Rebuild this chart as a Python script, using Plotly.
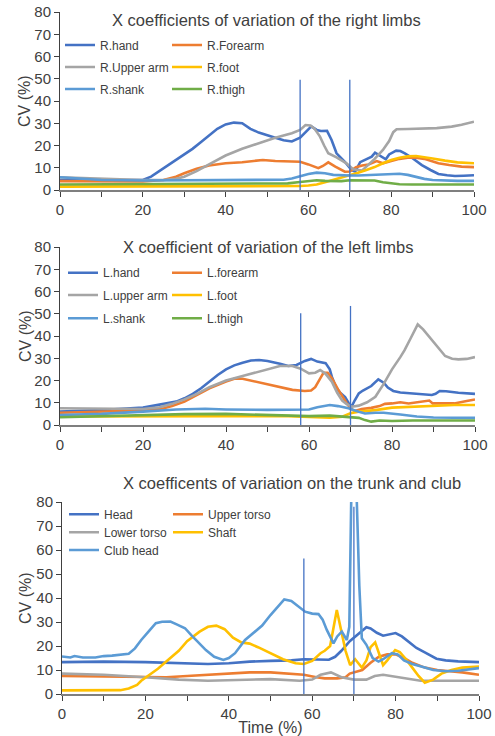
import plotly.graph_objects as go

FONT = "Liberation Sans, Arial, sans-serif"
TXT = "#404040"
W, H = 495, 736

# ---------------- data: panel 1 (right limbs) ----------------
r_hand_x = [0, 5, 10, 15, 20, 22, 24, 26, 28, 30, 32, 34, 36, 38, 40, 42, 44, 46, 48, 50, 52, 54, 56, 58, 59, 60.7, 62, 63, 64.5, 65.6, 66.8, 67.8, 68.8, 70.4, 71.3, 72.5, 74.1, 75.3, 76.1, 77.3, 78.7, 79.5, 81.2, 82.2, 83.3, 85, 87.4, 89.5, 91.4, 93.5, 95.4, 97.5, 100]
r_hand_y = [4.5, 4.5, 4.3, 4.3, 4.5, 6, 8.5, 11, 13.5, 16, 18.5, 21.5, 24.5, 27.5, 29.5, 30.3, 30, 27.5, 25.8, 24.8, 23.5, 22.4, 21.8, 23.5, 25.5, 28.6, 27, 26.5, 26.6, 22.5, 16.5, 14.5, 12.7, 9, 8.3, 12.5, 13.8, 15, 16.8, 15.3, 13.8, 16, 17.7, 17.5, 16.5, 14.5, 11.2, 9, 7.2, 6.6, 6.3, 6.4, 6.6]

r_forearm_x = [0, 10, 20, 25, 28, 30, 33, 36, 40, 44, 47, 49, 52, 55, 58, 60, 62.4, 63.5, 64.8, 66.5, 68.8, 70, 71.5, 73, 74.5, 76.5, 78, 80, 82, 84, 86, 88, 91.4, 94, 97, 100]
r_forearm_y = [4, 3.8, 3.8, 4.5, 6, 7.5, 9.5, 11, 12, 12.5, 13.2, 13.5, 13, 12.7, 12.7, 11.5, 9.8, 10.8, 12.4, 10.5, 8.2, 8.3, 10.2, 11, 11.5, 13, 12, 13, 14, 14.5, 14.5, 14, 12, 11.2, 10.5, 10.3]

r_upper_x = [0, 10, 20, 25, 28, 30, 33, 36, 40, 44, 48, 52, 56, 58, 59.3, 60.5, 61.5, 62.8, 63.8, 64.8, 66.8, 68, 69.2, 70.8, 72.9, 74, 76, 78, 79.5, 80.5, 81.3, 84, 87.4, 91, 94.6, 97, 100]
r_upper_y = [5.7, 5, 4.5, 4.5, 5, 6, 8.5, 11.5, 15.5, 18.5, 21, 23.5, 25.5, 27, 29.2, 29, 27.5, 24, 20, 16.5, 14.7, 13.5, 12, 9.3, 8.7, 10.5, 14, 18, 22, 26, 27.3, 27.4, 27.6, 27.8, 28.5, 29.3, 30.7]

r_foot_x = [0, 20, 40, 50, 55, 58, 60, 62, 64, 66, 68, 70, 72, 74, 76, 78, 80, 82, 84, 86, 88, 90, 93, 96, 100]
r_foot_y = [1.5, 1.5, 1.5, 1.5, 1.6, 1.8, 2, 2.5, 3.5, 4.5, 5.5, 6.7, 7.8, 9, 10.3, 12, 13.5, 14.5, 15.1, 15.3, 14.9, 14.2, 13.2, 12.4, 12]

r_shank_x = [0, 5, 10, 20, 30, 40, 50, 54, 56, 58, 60, 62, 64, 66, 68, 70, 72, 74, 76, 78, 80, 82, 84, 86, 88, 90, 93, 96, 100]
r_shank_y = [5.7, 5, 4.5, 4.3, 4.3, 4.3, 4.3, 4.6, 5.2, 6.2, 7.2, 7.8, 7.5, 6.8, 6.5, 6.5, 6.5, 6.7, 6.8, 7.1, 7.4, 7.3, 6.8, 5.9, 5, 4.5, 4.2, 4.1, 4.1]

r_thigh_x = [0, 20, 40, 50, 55, 58, 60, 62, 64, 66, 68, 70, 74, 76, 78, 80, 82, 85, 90, 100]
r_thigh_y = [2.5, 2.6, 2.6, 2.7, 3, 3.6, 4.1, 4.4, 4.1, 3.9, 4.0, 4.4, 4.5, 4.3, 3.5, 3, 2.6, 2.5, 2.6, 2.5]

# ---------------- data: panel 2 (left limbs) ----------------
l_hand_x = [0, 10, 20, 24, 28, 30, 32, 34, 36, 38, 40, 42, 44, 46, 48, 50, 53, 55, 57, 59, 60.5, 62, 64, 65, 65.5, 66.5, 67.5, 68.7, 69.5, 70.2, 71, 72, 73, 75, 76.7, 78, 79, 80.3, 82, 85, 88, 89.6, 90.5, 91.5, 93, 96, 100]
l_hand_y = [6, 6.7, 7.8, 9, 10.5, 12, 14, 16.5, 19.5, 22.5, 25, 26.8, 28, 29, 29.2, 28.8, 27.5, 26.5, 27, 28.8, 29.7, 28.5, 27.8, 25, 21.7, 17, 14.5, 12.5, 10, 8, 11, 14.2, 15.5, 17.5, 20.5, 19, 16.8, 15.3, 14.6, 14.2, 13.8, 13.5, 14, 15.3, 15.2, 14.5, 14]

l_forearm_x = [0, 10, 20, 25, 27, 30, 33, 36, 40, 42, 44, 47, 50, 53, 56, 59, 60.5, 61.5, 62.5, 63.5, 64.5, 65.5, 67, 68, 69, 70, 71, 72.7, 75, 77, 78.3, 80, 82, 84, 86, 88, 89, 89.8, 92, 95, 98, 100]
l_forearm_y = [5.5, 6, 6.5, 7.5, 8.5, 10.5, 13.5, 16.5, 19.5, 20.8, 20.8, 19.5, 18.5, 17, 15.8, 15.3, 15.5, 17, 20.5, 23.5, 23.5, 21, 16, 12.7, 10, 7.5, 6.3, 7.2, 7.7, 8.5, 9.5, 9.7, 10.2, 9.7, 10.3, 10.8, 11, 9.7, 9.8, 9.7, 10.8, 11.5]

l_upper_x = [0, 10, 20, 24, 27, 30, 33, 36, 40, 44, 47, 50, 53, 56, 58, 60, 61.5, 62.7, 64, 65.5, 66.8, 68, 69, 70.3, 72, 74, 76, 78, 80, 82, 83, 84.5, 86.2, 87.5, 88.8, 90.5, 92.8, 94.5, 96, 98, 100]
l_upper_y = [7.5, 7.2, 7.2, 8, 9.5, 11.5, 14, 17, 20, 22, 23.5, 25.2, 26.5, 26.5, 25.3, 23.2, 23.5, 24.7, 23, 19.5, 14.5, 11, 9.5, 8.2, 8.7, 10.2, 12.7, 18.5, 25, 30.5, 33.5, 39, 45.2, 43, 40, 36, 31, 29.8, 29.5, 29.7, 30.5]

l_foot_x = [0, 20, 40, 55, 60, 65, 68, 70, 72, 76, 80, 85, 90, 95, 100]
l_foot_y = [3.8, 4, 4, 4, 3.5, 3.3, 3.7, 5.3, 6, 6.7, 7.8, 8.2, 8.7, 9, 9]

l_shank_x = [0, 10, 20, 28, 35, 40, 50, 58, 60, 62, 65, 67, 69.5, 72, 73.5, 76, 78, 82, 86, 90, 95, 100]
l_shank_y = [4.5, 5, 6, 7, 7.3, 7, 6.8, 6.8, 7, 8, 9, 8.5, 7.5, 6, 5.2, 5.5, 5.5, 4.7, 3.8, 3.4, 3.2, 3.2]

l_thigh_x = [0, 10, 20, 30, 40, 50, 55, 60, 65, 68, 70, 72, 73.5, 75, 77, 80, 85, 90, 100]
l_thigh_y = [3.5, 4, 4.5, 4.9, 5, 4.6, 4.2, 4, 4.2, 3.8, 3.5, 3.2, 2.2, 1.5, 2, 1.8, 2, 2, 2]

# ---------------- data: panel 3 (trunk and club) ----------------
head_x = [0, 10, 20, 30, 35, 40, 45, 50, 55, 58, 62, 64, 65.5, 67, 69, 71, 73, 74, 75.5, 77, 78.5, 80, 81.5, 83, 85, 87, 89.8, 92, 95, 100]
head_y = [13.3, 13.5, 13.3, 12.8, 12.5, 12.8, 13.5, 13.8, 14, 14.5, 14.5, 14.3, 15.5, 18, 22, 25, 27.8, 27.3, 25.5, 24.3, 24.7, 25.4, 24, 22, 19.2, 17.3, 14.7, 14, 13.6, 13.3]

upper_torso_x = [0, 10, 20, 25, 30, 35, 40, 45, 50, 55, 58, 61, 63, 66, 68, 69, 70, 72, 74, 76, 78, 80, 82, 84, 87, 90, 93, 96, 100]
upper_torso_y = [7.5, 7.3, 7.2, 7, 7.5, 8, 8.5, 9, 9, 8.5, 8, 7, 6.5, 6.5, 7, 8.5, 9, 10, 13, 15.5, 16.5, 16.5, 15, 13, 11, 10, 9.5, 9, 8]

lower_torso_x = [0, 10, 20, 28, 35, 45, 50, 57, 60, 62, 64.5, 67, 70, 73, 75, 77, 79, 82, 86, 90, 100]
lower_torso_y = [8.5, 8, 7, 6, 5.5, 6, 6.2, 5.5, 6, 8, 9, 7, 6, 6, 7.5, 8, 7.5, 6.5, 5.5, 5.5, 5.5]

shaft_x = [0, 12, 14, 16, 18, 19, 21, 23, 25, 28, 30, 33, 35, 37, 39, 41, 43, 45, 47, 50, 53, 56, 58, 60, 62, 63, 64.3, 65.9, 67.1, 68, 69.1, 70.3, 71.9, 73, 74, 75.1, 76.3, 77, 78, 79.9, 81, 82.3, 84, 85.5, 87, 89, 91, 93.4, 96, 100]
shaft_y = [1.5, 1.5, 1.6, 2.3, 3.8, 5.5, 8, 10.5, 13.5, 18, 22, 26, 28, 28.5, 27, 23.5, 21.5, 21, 19.5, 17, 14.5, 12.8, 12.5, 13.8, 17, 18, 20, 35, 25.3, 18, 12, 14.5, 11, 14, 19.5, 21.5, 15.5, 12, 14, 18.3, 17.5, 14.9, 11, 7.5, 4.7, 6, 8.5, 10, 11, 11.4]

club_head_x = [0, 2, 3, 5, 8, 10, 12, 14, 16, 17.5, 19, 21, 22.5, 24, 26, 27.5, 29.5, 31, 33, 34.5, 36.5, 38.7, 40, 41.5, 43.9, 46, 48, 50, 52, 53.3, 55, 57, 58.3, 60, 61.5, 62.5, 63.5, 65.1, 66, 67.1, 68.3, 68.9, 69.35, 70, 70.7, 71.3, 71.9, 73, 74.5, 75.9, 77, 79.1, 80.5, 82, 84, 87, 89, 92, 95, 100]
club_head_y = [15.6, 15.2, 15.8, 15.2, 15.2, 15.8, 16, 16.4, 16.8, 19, 22.5, 26.5, 29.5, 30.1, 30.2, 29, 27.4, 24.5, 21, 18.3, 15.5, 14.2, 15, 17, 22.5, 25.5, 28.5, 32.9, 37, 39.4, 38.8, 36, 34.3, 33.5, 33.3, 31, 26.7, 21.1, 24, 26, 22.5, 28, 80, 110, 80, 45, 23.2, 20.5, 15, 13.5, 14.5, 17, 16.5, 14, 12.5, 11, 10, 9.5, 9.7, 10.8]

# phase markers (vertical lines): x positions and heights per panel
phase_x = [58, 70]
phase_top_p1 = [49.5, 49.5]
phase_top_p2 = [50.2, 53.5]
phase_top_p3 = [56.5, 78]

titles = ["X coefficients of variation of the right limbs",
          "X coefficient of variation of the left limbs",
          "X coefficents of variation on the trunk and club"]

BLUE, ORANGE, GRAY, YELLOW, LBLUE, GREEN = "#4472C4", "#ED7D31", "#A5A5A5", "#FFC000", "#5B9BD5", "#70AD47"

# series: (name, x, y, color, panel, legend col, legend row)
series = [
    ("R.hand", r_hand_x, r_hand_y, BLUE, 1, 0, 0),
    ("R.Forearm", r_forearm_x, r_forearm_y, ORANGE, 1, 1, 0),
    ("R.Upper arm", r_upper_x, r_upper_y, GRAY, 1, 0, 1),
    ("R.foot", r_foot_x, r_foot_y, YELLOW, 1, 1, 1),
    ("R.shank", r_shank_x, r_shank_y, LBLUE, 1, 0, 2),
    ("R.thigh", r_thigh_x, r_thigh_y, GREEN, 1, 1, 2),
    ("L.hand", l_hand_x, l_hand_y, BLUE, 2, 0, 0),
    ("L.forearm", l_forearm_x, l_forearm_y, ORANGE, 2, 1, 0),
    ("L.upper arm", l_upper_x, l_upper_y, GRAY, 2, 0, 1),
    ("L.foot", l_foot_x, l_foot_y, YELLOW, 2, 1, 1),
    ("L.shank", l_shank_x, l_shank_y, LBLUE, 2, 0, 2),
    ("L.thigh", l_thigh_x, l_thigh_y, GREEN, 2, 1, 2),
    ("Head", head_x, head_y, BLUE, 3, 0, 0),
    ("Upper torso", upper_torso_x, upper_torso_y, ORANGE, 3, 1, 0),
    ("Lower torso", lower_torso_x, lower_torso_y, GRAY, 3, 0, 1),
    ("Shaft", shaft_x, shaft_y, YELLOW, 3, 1, 1),
    ("Club head", club_head_x, club_head_y, LBLUE, 3, 0, 2),
]

def fx(px):
    return px / W

def fy(py):
    return 1 - py / H

# layout geometry (pixels)
xdom = {1: (60, 474), 2: (60, 475), 3: (62, 479)}
ydom = {1: (190, 12), 2: (425, 247), 3: (694, 502)}
leg_cols = {1: (100, 207), 2: (103, 207), 3: (104, 208)}
leg_rows = {1: (45, 67, 89), 2: (272.7, 295, 318.3), 3: (514.3, 532.3, 550)}
title_pos = {1: (266, 20), 2: (268, 247), 3: (292, 483)}
ytitle_x = 25

fig = go.Figure()
layout = dict(
    width=W, height=H, autosize=False,
    margin=dict(l=0, r=0, t=0, b=0),
    paper_bgcolor="white", plot_bgcolor="white",
    font=dict(family=FONT, size=15, color=TXT),
    showlegend=True,
    annotations=[], shapes=[],
)

for i, (name, xs, ys, col, p, lc, lr) in enumerate(series):
    lname = "legend" if i == 0 else f"legend{i+1}"
    sfx = "" if p == 1 else str(p)
    fig.add_trace(go.Scatter(
        x=xs, y=ys, name=name, mode="lines",
        line=dict(color=col, width=2.6),
        xaxis="x" + sfx, yaxis="y" + sfx, legend=lname,
    ))
    layout[lname] = dict(
        x=fx(leg_cols[p][lc] - 40), y=fy(leg_rows[p][lr]),
        xanchor="left", yanchor="middle",
        bgcolor="rgba(0,0,0,0)", borderwidth=0,
        font=dict(family=FONT, size=12, color=TXT),
    )

tops = {1: phase_top_p1, 2: phase_top_p2, 3: phase_top_p3}
for p in (1, 2, 3):
    sfx = "" if p == 1 else str(p)
    xa = dict(
        domain=[fx(xdom[p][0]), fx(xdom[p][1])], range=[0, 100],
        anchor="y" + sfx, automargin=False,
        dtick=20, tick0=0, ticks="outside", ticklen=5, tickcolor="#404040",
        showline=True, linecolor="#7f7f7f", linewidth=1.8,
        showgrid=False, zeroline=False,
        tickfont=dict(family=FONT, size=15, color=TXT),
        minor=dict(dtick=10, ticks="outside", ticklen=5, tickcolor="#404040", showgrid=False),
    )
    if p == 3:
        xa["title"] = dict(text="Time (%)", font=dict(family=FONT, size=16, color=TXT), standoff=2)
    ya = dict(
        domain=[fy(ydom[p][0]), fy(ydom[p][1])], range=[0, 80],
        anchor="x" + sfx, automargin=False,
        dtick=10, ticks="outside", ticklen=5, tickcolor="#404040",
        showline=True, linecolor="#404040", linewidth=1,
        showgrid=False, zeroline=False,
        tickfont=dict(family=FONT, size=15, color=TXT),
    )
    layout["xaxis" + sfx] = xa
    layout["yaxis" + sfx] = ya
    layout["annotations"].append(dict(
        text=titles[p - 1], x=fx(title_pos[p][0]), y=fy(title_pos[p][1]),
        xref="paper", yref="paper", xanchor="center", yanchor="middle",
        showarrow=False, font=dict(family=FONT, size=16.5, color=TXT),
    ))
    layout["annotations"].append(dict(
        text="CV (%)", textangle=-90,
        x=fx(ytitle_x), y=fy((ydom[p][0] + ydom[p][1]) / 2),
        xref="paper", yref="paper", xanchor="center", yanchor="middle",
        showarrow=False, font=dict(family=FONT, size=16, color=TXT),
    ))
    for xv, top in zip(phase_x, tops[p]):
        layout["shapes"].append(dict(
            type="line", xref="x" + sfx, yref="y" + sfx,
            x0=xv, x1=xv, y0=0, y1=top,
            line=dict(color=BLUE, width=1.3), layer="above",
        ))

fig.update_layout(**layout)
fig.write_html("out.html")
